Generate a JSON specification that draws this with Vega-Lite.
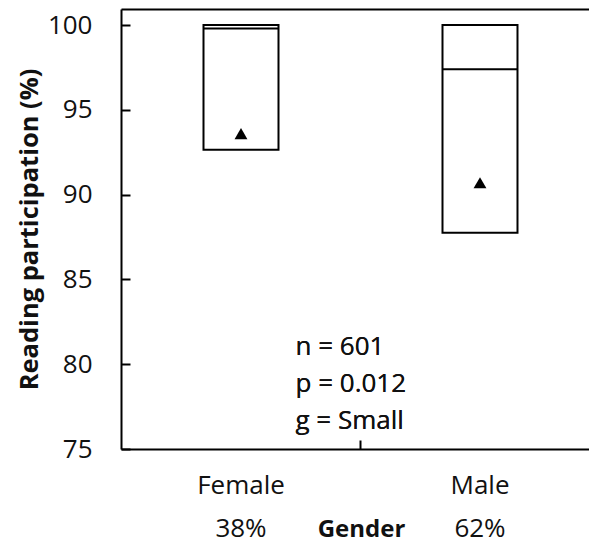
{
  "$schema": "https://vega.github.io/schema/vega-lite/v6.json",
  "width": 468,
  "height": 440,
  "autosize": {"type": "none"},
  "padding": {"left": 121, "top": 9, "right": 0, "bottom": 95},
  "background": "white",
  "config": {"view": {"stroke": null}, "font": "Open Sans"},
  "data": {
    "values": [
      {"gender": "Female", "q1": 92.65, "median": 99.8, "q3": 100, "mean": 93.6},
      {"gender": "Male", "q1": 87.75, "median": 97.4, "q3": 100, "mean": 90.7}
    ]
  },
  "layer": [
    {
      "mark": {"type": "bar", "fill": "white", "stroke": "black", "strokeWidth": 2},
      "encoding": {
        "x": {
          "field": "gender",
          "type": "nominal",
          "scale": {"type": "band", "domain": ["Female", "mid", "Male"], "paddingInner": 0.3724, "paddingOuter": 0.6444, "align": 0.5357},
          "axis": {
            "orient": "bottom",
            "title": "Gender",
            "titleFontWeight": "bold",
            "titleFontSize": 24,
            "titleColor": "#111",
            "titleX": 240,
            "titleY": 87,
            "titleBaseline": "alphabetic",
            "titleAlign": "center",
            "domainColor": "black",
            "domainWidth": 2,
            "ticks": true,
            "tickColor": "black",
            "tickWidth": 2,
            "tickSize": -9,
            "tickOpacity": {"condition": {"test": "datum.value === 'mid'", "value": 1}, "value": 0},
            "labelExpr": "datum.value === 'Female' ? ['Female', '38%'] : datum.value === 'Male' ? ['Male', '62%'] : ''",
            "labelFontSize": 26,
            "labelColor": "#111",
            "labelPadding": 53,
            "labelLineHeight": 43,
            "labelBaseline": "alphabetic",
            "labelAngle": 0
          }
        },
        "y": {
          "field": "q1",
          "type": "quantitative",
          "scale": {"domain": [75, 100.95], "nice": false, "zero": false},
          "axis": {
            "values": [75, 80, 85, 90, 95, 100],
            "title": "Reading participation (%)",
            "titleFontSize": 25.5,
            "titleFontWeight": "bold",
            "titleColor": "#111",
            "titleX": -92,
            "titleY": 220,
            "titleAngle": -90,
            "titleAlign": "center",
            "titleBaseline": "middle",
            "domainColor": "black",
            "domainWidth": 2,
            "ticks": false,
            "grid": true,
            "gridColor": "black",
            "gridWidth": 2,
            "gridOpacity": 1,
            "gridDash": [9, 2000],
            "labelFontSize": 26,
            "labelPadding": 29,
            "labelColor": "#111"
          }
        },
        "y2": {"field": "q3"}
      }
    },
    {
      "mark": {"type": "tick", "color": "black", "thickness": 2, "size": 75, "opacity": 1},
      "encoding": {
        "x": {
          "field": "gender",
          "type": "nominal",
          "axis": {"orient": "top", "title": null, "labels": false, "ticks": false, "domainColor": "black", "domainWidth": 2}
        },
        "y": {"field": "median", "type": "quantitative"}
      }
    },
    {
      "mark": {"type": "point", "shape": "triangle-up", "filled": true, "color": "black", "size": 165, "opacity": 1},
      "encoding": {
        "x": {"field": "gender", "type": "nominal", "axis": null},
        "y": {"field": "mean", "type": "quantitative"}
      }
    },
    {
      "mark": {"type": "text", "text": ["n = 601", "p = 0.012", "g = Small"], "align": "left", "baseline": "alphabetic", "dx": -65, "fontSize": 26, "lineHeight": 37, "color": "#111"},
      "encoding": {
        "x": {"datum": "mid", "type": "nominal", "axis": null},
        "y": {"datum": 80.55, "type": "quantitative"}
      }
    }
  ]
}
